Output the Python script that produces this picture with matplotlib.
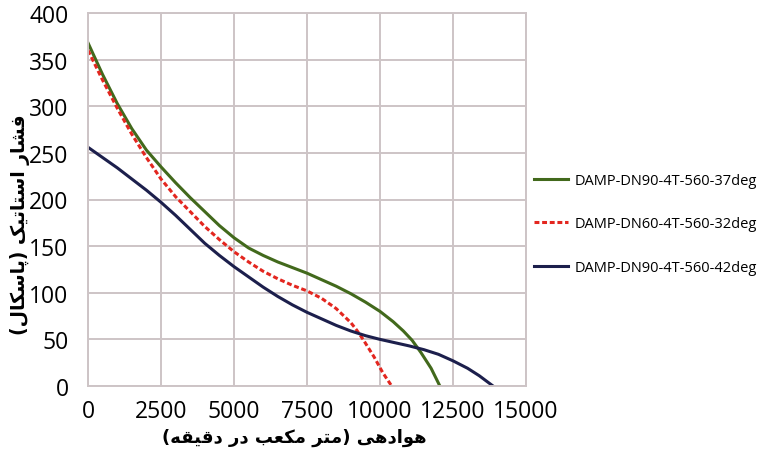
#!/usr/bin/env python3

import matplotlib
matplotlib.use('Agg')
import matplotlib.pyplot as plt

# air flow (m3/min) and static pressure (Pa)
green_x = [0, 500, 1000, 1500, 2000, 2500, 3000, 3500, 4000, 4500, 5000, 5500, 6000,
           6500, 7000, 7500, 8000, 8500, 9000, 9500, 10000, 10450, 10800, 11100, 11400,
           11750, 12050]
green_y = [368, 334, 303, 276, 253, 235, 218, 202, 187, 172, 159, 148, 140,
           133, 127, 121, 114, 107, 99, 90, 80, 69, 59, 49, 36, 19, 0]

red_x = [0, 500, 1000, 1500, 2000, 2500, 3000, 3500, 4000, 4500, 5000, 5500, 6000,
         6500, 7000, 7500, 8000, 8500, 9000, 9200, 9420, 9800, 10100, 10400]
red_y = [360, 328, 298, 270, 245, 222, 203, 187, 171, 157, 144, 133, 123,
         115, 108, 102, 94, 83, 68, 60, 50, 31, 14, 0]

blue_x = [0, 500, 1000, 1500, 2000, 2500, 3000, 3500, 4000, 4500, 5000, 5500, 6000,
          6500, 7000, 7500, 8000, 8500, 9000, 9500, 10000, 10500, 11000, 11500, 12000,
          12500, 13000, 13400, 13870]
blue_y = [256, 245, 234, 222, 210, 197, 183, 168, 153, 140, 128, 117, 106,
          96, 87, 79, 72, 65, 59, 54, 50, 46.5, 43, 39, 34, 27, 19, 11, 0]

labels = ['DAMP-DN90-4T-560-37deg', 'DAMP-DN60-4T-560-32deg', 'DAMP-DN90-4T-560-42deg']
x_ticks = [0, 2500, 5000, 7500, 10000, 12500, 15000]
y_ticks = [0, 50, 100, 150, 200, 250, 300, 350, 400]
x_title = 'هوادهی (متر مکعب در دقیقه)'
y_title = 'فشار استاتیک (پاسکال)'

# contextual forms: isolated, final, initial, medial
FORMS = {
    'ا': ('\uFE8D', '\uFE8E', None, None),
    'ب': ('\uFE8F', '\uFE90', '\uFE91', '\uFE92'),
    'پ': ('\uFB56', '\uFB57', '\uFB58', '\uFB59'),
    'ت': ('\uFE95', '\uFE96', '\uFE97', '\uFE98'),
    'د': ('\uFEA9', '\uFEAA', None, None),
    'ر': ('\uFEAD', '\uFEAE', None, None),
    'س': ('\uFEB1', '\uFEB2', '\uFEB3', '\uFEB4'),
    'ش': ('\uFEB5', '\uFEB6', '\uFEB7', '\uFEB8'),
    'ع': ('\uFEC9', '\uFECA', '\uFECB', '\uFECC'),
    'ف': ('\uFED1', '\uFED2', '\uFED3', '\uFED4'),
    'ق': ('\uFED5', '\uFED6', '\uFED7', '\uFED8'),
    'ک': ('\uFB8E', '\uFB8F', '\uFB90', '\uFB91'),
    'ل': ('\uFEDD', '\uFEDE', '\uFEDF', '\uFEE0'),
    'م': ('\uFEE1', '\uFEE2', '\uFEE3', '\uFEE4'),
    'ه': ('\uFEE9', '\uFEEA', '\uFEEB', '\uFEEC'),
    'و': ('\uFEED', '\uFEEE', None, None),
    'ی': ('\uFBFC', '\uFBFD', '\uFBFE', '\uFBFF'),
}


def shape_fa(text):
    """Join Persian letters and put them in visual (left to right) order"""
    out = []
    for i, ch in enumerate(text):
        if ch not in FORMS:
            out.append(ch)
            continue
        prev = text[i - 1] if i > 0 else ''
        nxt = text[i + 1] if i < len(text) - 1 else ''
        iso, fin, ini, med = FORMS[ch]
        joins_prev = prev in FORMS and FORMS[prev][2] is not None
        joins_next = nxt in FORMS and ini is not None
        if joins_prev and joins_next:
            out.append(med)
        elif joins_prev:
            out.append(fin)
        elif joins_next:
            out.append(ini)
        else:
            out.append(iso)
    vis = ''.join(reversed(out))
    return vis.translate(str.maketrans('()', ')('))


W, H = 763, 460
fig = plt.figure(figsize=(W / 100, H / 100), dpi=100)
ax = fig.add_axes([88 / W, 1 - 387 / H, 438 / W, 373 / H])

grid_color = '#cdc4c6'

ax.plot(green_x, green_y, color='#42691c', linewidth=2.2, label=labels[0])
ax.plot(red_x, red_y, color='#e3261f', linewidth=2.2, linestyle=(0, (1.6, 0.9)), label=labels[1])
ax.plot(blue_x, blue_y, color='#1c1f4c', linewidth=2.2, label=labels[2])

ax.set_xlim(0, 15000)
ax.set_ylim(0, 400)
ax.set_xticks(x_ticks)
ax.set_yticks(y_ticks)
ax.tick_params(length=0, labelsize=16.5)
ax.tick_params(axis='x', pad=9)
ax.tick_params(axis='y', pad=14)
for lab in ax.get_xticklabels() + ax.get_yticklabels():
    lab.set_family('Open Sans')

ax.grid(True, color=grid_color, linewidth=1.4)
ax.set_axisbelow(True)
for sp in ax.spines.values():
    sp.set_color(grid_color)
    sp.set_linewidth(1.4)

ax.legend(loc='center left', bbox_to_anchor=(527 / W, 1 - 225 / H), bbox_transform=fig.transFigure,
          frameon=False, borderpad=0, handlelength=2.3, handletextpad=0.5, labelspacing=1.95,
          prop={'family': 'Open Sans', 'size': 10.5})

fig.text(294 / W, 1 - 438 / H, shape_fa(x_title), ha='center', va='center',
         fontsize=13, fontweight='bold', family='DejaVu Sans')
fig.text(20 / W, 1 - 225 / H, shape_fa(y_title), ha='center', va='center', rotation=90,
         fontsize=13.5, fontweight='bold', family='DejaVu Sans')

fig.savefig('out.png', dpi=100)
